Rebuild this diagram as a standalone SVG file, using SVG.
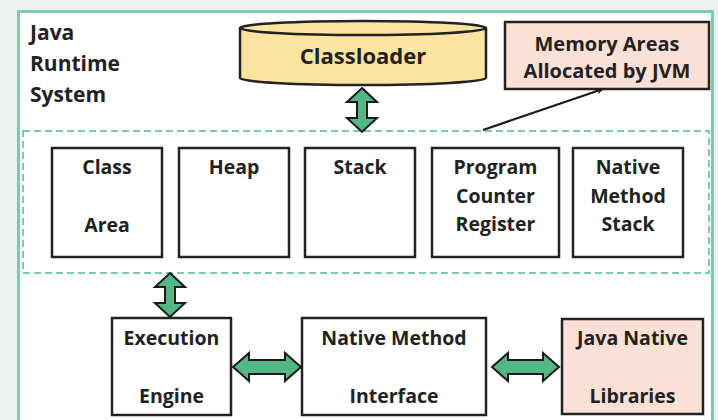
<svg xmlns="http://www.w3.org/2000/svg" width="718" height="420" viewBox="0 0 718 420">
<style>
  .t { font-family: "Open Sans", "Liberation Sans", sans-serif; font-weight: 700; fill: #222; text-anchor: middle; font-size: 19.5px; }
  .title { font-family: "Open Sans", "Liberation Sans", sans-serif; font-weight: 700; fill: #222; font-size: 21px; }
  .box { fill: #ffffff; stroke: #222; stroke-width: 2.5; }
  .pink { fill: #fbe0d6; stroke: #222; stroke-width: 2.5; }
  .garrow { fill: #52b785; stroke: #1a1a1a; stroke-width: 2; stroke-linejoin: miter; }
</style>
<defs>
  <marker id="ah" viewBox="0 0 10 10" refX="9" refY="5" markerWidth="7" markerHeight="7" orient="auto" markerUnits="userSpaceOnUse">
    <path d="M0,0 L10,5 L0,10 L3,5 Z" fill="#1a1a1a"/>
  </marker>
</defs>
<rect x="0" y="0" width="718" height="420" fill="#eff1f1"/>
<rect id="frame" x="18.5" y="11.5" width="694" height="420" fill="#ffffff" stroke="#7ccbab" stroke-width="3"/>
<g id="title">
  <text class="title" x="30" y="40">Java</text>
  <text class="title" x="30" y="71">Runtime</text>
  <text class="title" x="30" y="102">System</text>
</g>
<rect id="memory-frame" x="23" y="131" width="686" height="142" fill="none" stroke="#7ccbab" stroke-width="2" stroke-dasharray="7,4"/>
<g id="classloader">
  <path d="M240,28 L240,78 A123,7 0 0 0 486,78 L486,28 A123,7 0 0 0 240,28 Z" fill="#fbe3a0" stroke="#222" stroke-width="2.5"/>
  <path d="M240,28 A123,7 0 0 0 486,28" fill="none" stroke="#222" stroke-width="2.5"/>
  <text class="t" x="363" y="64" style="font-size:22px">Classloader</text>
</g>
<g id="memory-areas">
  <rect class="pink" x="505" y="22" width="204" height="67"/>
  <text class="t" x="607" y="51" style="font-size:20px">Memory Areas</text>
  <text class="t" x="607" y="78" style="font-size:20px">Allocated by JVM</text>
</g>
<g id="class-area">
  <rect class="box" x="52" y="148" width="110" height="109"/>
  <text class="t" x="107" y="174">Class</text>
  <text class="t" x="107" y="232">Area</text>
</g>
<g id="heap">
  <rect class="box" x="179" y="148" width="110" height="109"/>
  <text class="t" x="234" y="174">Heap</text>
</g>
<g id="stack">
  <rect class="box" x="305" y="148" width="110" height="109"/>
  <text class="t" x="360" y="174">Stack</text>
</g>
<g id="pc-register">
  <rect class="box" x="432" y="148" width="127" height="109"/>
  <text class="t" x="495.5" y="174">Program</text>
  <text class="t" x="495.5" y="203">Counter</text>
  <text class="t" x="495.5" y="231">Register</text>
</g>
<g id="native-method-stack">
  <rect class="box" x="573" y="148" width="110" height="109"/>
  <text class="t" x="628" y="174">Native</text>
  <text class="t" x="628" y="203">Method</text>
  <text class="t" x="628" y="231">Stack</text>
</g>
<g id="execution-engine">
  <rect class="box" x="112" y="318" width="119" height="97"/>
  <text class="t" x="171.5" y="345">Execution</text>
  <text class="t" x="171.5" y="403">Engine</text>
</g>
<g id="native-method-interface">
  <rect class="box" x="302" y="318" width="184" height="97"/>
  <text class="t" x="394" y="345">Native Method</text>
  <text class="t" x="394" y="403">Interface</text>
</g>
<g id="java-native-libraries">
  <rect class="pink" x="562" y="319" width="141" height="95"/>
  <text class="t" x="632.5" y="345">Java Native</text>
  <text class="t" x="632.5" y="403">Libraries</text>
</g>
<g id="connectors">
  <polygon class="garrow" points="362,88 377,102 367,102 367,118 377,118 362,132 347,118 357,118 357,102 347,102"/>
  <polygon class="garrow" points="170,273 185,287 175,287 175,303 185,303 170,317 155,303 165,303 165,287 155,287"/>
  <polygon class="garrow" points="233,367 249,353 249,360 285,360 285,353 301,367 285,381 285,374 249,374 249,381"/>
  <polygon class="garrow" points="492,367 508,353 508,360 543,360 543,353 559,367 543,381 543,374 508,374 508,381"/>
  <line x1="483" y1="130" x2="603" y2="89" stroke="#1a1a1a" stroke-width="2.2" marker-end="url(#ah)"/>
</g>
</svg>
